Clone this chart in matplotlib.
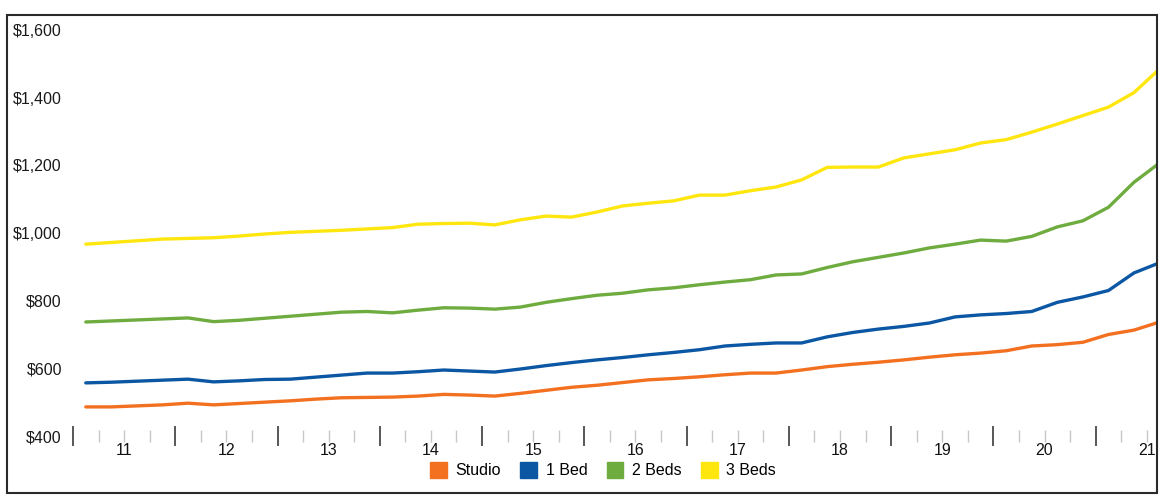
import numpy as np
import pandas as pd
import matplotlib
matplotlib.use("Agg")
from matplotlib import pyplot as plt
from matplotlib.patches import Patch, Rectangle

plt.rcParams['font.family'] = ['Liberation Sans', 'DejaVu Sans']

# average rent by quarter, 2011Q1 - 2021Q3
quarters = pd.period_range('2011Q1', '2021Q3', freq='Q')

studio = [486, 486, 489, 492, 497, 492, 496, 500, 504, 509, 513, 514, 515, 518, 523,
          521, 518, 526, 535, 544, 550, 558, 566, 570, 575, 581, 586, 586, 595, 605,
          612, 618, 625, 633, 640, 645, 652, 666, 670, 677, 700, 713, 737]
bed1 = [557, 559, 562, 565, 568, 560, 563, 567, 568, 574, 580, 586, 586, 590, 595,
        592, 589, 598, 608, 617, 625, 632, 640, 647, 655, 666, 671, 675, 675, 693,
        706, 716, 724, 734, 752, 758, 762, 768, 795, 811, 830, 882, 912]
bed2 = [737, 740, 743, 746, 749, 738, 742, 748, 754, 760, 766, 768, 764, 772, 779,
        778, 775, 781, 795, 806, 816, 822, 832, 838, 847, 855, 862, 876, 879, 898,
        915, 928, 941, 956, 967, 979, 976, 990, 1018, 1036, 1076, 1150, 1207]
bed3 = [967, 972, 977, 982, 984, 986, 991, 997, 1002, 1005, 1008, 1012, 1016, 1026, 1028,
        1029, 1024, 1039, 1050, 1047, 1062, 1080, 1088, 1095, 1112, 1112, 1125, 1136, 1157, 1194,
        1195, 1195, 1222, 1234, 1246, 1266, 1276, 1298, 1322, 1347, 1372, 1415, 1485]

series_names = ["Studio", "1 Bed", "2 Beds", "3 Beds"]
series_colors = ["#f37021", "#0b57a4", "#6fac3f", "#ffe60f"]

years = np.arange(2011, 2022)
year_labels = [str(y)[2:] for y in years]
y_ticks = [400, 600, 800, 1000, 1200, 1400, 1600]

# quarter midpoints as decimal years
x = np.array([q.year + (q.quarter - 0.5) / 4 for q in quarters])

fig = plt.figure(figsize=(11.59, 4.96), dpi=100)
ax = fig.add_axes([73 / 1159, 60 / 496, 1084 / 1159, 406 / 496])

for vals, name, col in zip([studio, bed1, bed2, bed3], series_names, series_colors):
    ax.plot(x, vals, color=col, linewidth=2.4, label=name, solid_capstyle='round')

ax.set_xlim(2011, 2021.6)
ax.set_ylim(400, 1600)

for s in ax.spines.values():
    s.set_visible(False)

# y axis: dollar labels, no tick marks
ax.set_yticks(y_ticks)
ax.set_yticklabels(["${:,}".format(v) for v in y_ticks], fontsize=11.5, color="#1a1a1a")
ax.tick_params(axis='y', length=0, pad=8)

# x axis: year boundaries as dark ticks, quarters as light ticks
ax.set_xticks(years)
ax.set_xticklabels([])
ax.tick_params(axis='x', which='major', direction='inout', length=15, width=1.3,
               color="#4a4a4a")
minor = [y + q / 4 for y in years for q in (1, 2, 3) if y + q / 4 < 2021.6]
ax.set_xticks(minor, minor=True)
ax.tick_params(axis='x', which='minor', direction='inout', length=8, width=1,
               color="#c8c8c8")

# year labels centred between the boundary ticks
sec = ax.secondary_xaxis('bottom')
sec.set_xticks(years + 0.5)
sec.set_xticklabels(year_labels, fontsize=11.5, color="#111111")
sec.tick_params(length=0, pad=5)
sec.spines['bottom'].set_visible(False)

handles = [Patch(facecolor=c, edgecolor=c, label=n) for n, c in zip(series_names, series_colors)]
fig.legend(handles=handles, loc='center', bbox_to_anchor=(603 / 1159, 1 - 470 / 496),
           ncol=4, frameon=False, fontsize=11.5, handlelength=1.05, handleheight=1.15,
           handletextpad=0.55, columnspacing=1.2)

# outer frame
fig.patches.append(Rectangle((7 / 1159, 3 / 496), 1150 / 1159, 478 / 496,
                             transform=fig.transFigure, fill=False,
                             edgecolor="#2a2a2a", linewidth=1.5))

fig.savefig("out.png", dpi=100)
